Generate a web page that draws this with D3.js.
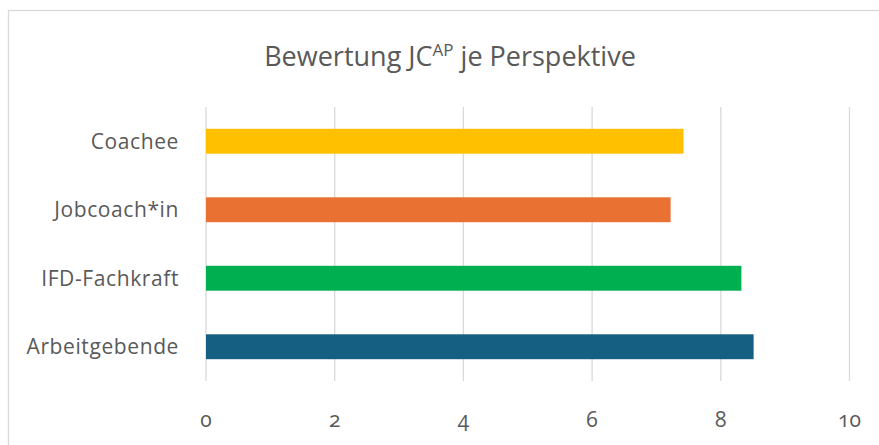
<!DOCTYPE html>
<html>
<head>
<meta charset="utf-8">
<script src="https://cdn.jsdelivr.net/npm/d3@7"></script>
<style>
  html, body { margin: 0; padding: 0; background: #fff; }
  svg { display: block; }
  .lbl { font-family: "Open Sans", "Noto Sans", sans-serif; fill: #595959; }
  .tick-lbl { font-family: "Open Sans", "Noto Sans", sans-serif; fill: #595959; font-variant-numeric: oldstyle-nums; font-feature-settings: "onum" 1; }
  .title { font-family: "Open Sans", "Noto Sans", sans-serif; fill: #595959; font-stretch: 92%; }
</style>
</head>
<body>
<script>
const categories = ["Coachee", "Jobcoach*in", "IFD-Fachkraft", "Arbeitgebende"];
const values = [7.42, 7.22, 8.32, 8.51];
const colors = ["#FFC000", "#E97132", "#00B050", "#156082"];
const tickValues = [0, 2, 4, 6, 8, 10];
const titleMain = "Bewertung JC";
const titleSup = "AP";
const titleRest = " je Perspektive";

const W = 879, H = 445;
const svg = d3.select("body").append("svg").attr("width", W).attr("height", H);

// chart border
svg.append("rect")
  .attr("x", 8.5).attr("y", 10.5)
  .attr("width", 1000).attr("height", 1000)
  .attr("fill", "#fff").attr("stroke", "#d9d9d9").attr("stroke-width", 1.3);

const x = d3.scaleLinear().domain([0, 10]).range([206, 849.5]);
const y = d3.scaleBand().domain(categories).range([107, 381])
  .paddingInner(1.75 / 2.75).paddingOuter(0.875 / 2.75);

// gridlines
svg.append("g").selectAll("line").data(tickValues).join("line")
  .attr("x1", d => x(d)).attr("x2", d => x(d))
  .attr("y1", 107).attr("y2", 381)
  .attr("stroke", "#d9d9d9").attr("stroke-width", 1.3);

// bars
svg.append("g").selectAll("rect").data(categories).join("rect")
  .attr("x", x(0))
  .attr("y", d => y(d))
  .attr("width", (d, i) => x(values[i]) - x(0))
  .attr("height", y.bandwidth())
  .attr("fill", (d, i) => colors[i]);

// category labels
svg.append("g").selectAll("text").data(categories).join("text")
  .attr("class", "lbl")
  .attr("x", 179)
  .attr("y", d => y(d) + y.bandwidth() / 2)
  .attr("dy", "0.36em")
  .attr("text-anchor", "end")
  .attr("font-size", 21)
  .attr("letter-spacing", 0.6)
  .text(d => d);

// x tick labels
svg.append("g").selectAll("text").data(tickValues).join("text")
  .attr("class", "tick-lbl")
  .attr("x", d => x(d))
  .attr("y", 427)
  .attr("text-anchor", "middle")
  .attr("font-size", 21)
  .text(d => d);

// title
const t = svg.append("text").attr("class", "title")
  .attr("x", 450).attr("y", 66)
  .attr("text-anchor", "middle")
  .attr("font-size", 27);
t.append("tspan").text(titleMain);
t.append("tspan").attr("font-size", 17).attr("dy", -10).text(titleSup);
t.append("tspan").attr("dy", 10).text(titleRest);
</script>
</body>
</html>
